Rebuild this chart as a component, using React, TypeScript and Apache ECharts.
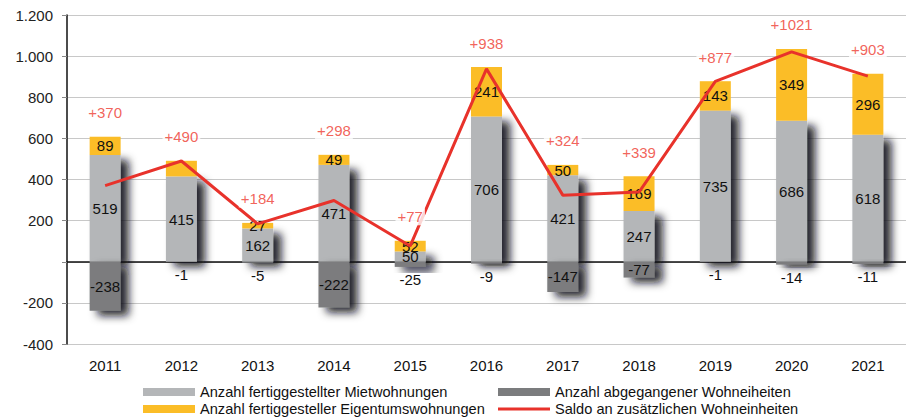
import React, { useEffect, useRef } from "react";
import * as echarts from "echarts";

const years = ["2011", "2012", "2013", "2014", "2015", "2016", "2017", "2018", "2019", "2020", "2021"];
const mietwohnungen = [519, 415, 162, 471, 50, 706, 421, 247, 735, 686, 618];
const eigentumswohnungen = [89, 76, 27, 49, 52, 241, 50, 169, 143, 349, 296];
const abgang = [-238, -1, -5, -222, -25, -9, -147, -77, -1, -14, -11];
const saldo = [370, 490, 184, 298, 77, 938, 324, 339, 877, 1021, 903];
const hiddenEigLabels = [1];
const yTicks = { min: -400, max: 1200, interval: 200 };

const N_MIET = "Anzahl fertiggestellter Mietwohnungen";
const N_EIG = "Anzahl fertiggesteller Eigentumswohnungen";
const N_ABG = "Anzahl abgegangener Wohneiheiten";
const N_SALDO = "Saldo an zusätzlichen Wohneinheiten";

const FONT = "'Liberation Sans', Arial, sans-serif";
const shadow = {
  shadowBlur: 9,
  shadowOffsetX: 8,
  shadowOffsetY: 5,
  shadowColor: "rgba(10,10,20,0.9)",
};

export default function App() {
  const ref = useRef<HTMLDivElement>(null);
  useEffect(() => {
    if (!ref.current) return;
    const chart = echarts.init(ref.current, undefined, { renderer: "svg" });
    const valueLabel = { show: true, color: "#111", fontSize: 15, fontFamily: FONT };
    const legendText = { fontSize: 14.6, lineHeight: 15, color: "#111", fontFamily: FONT };
    const noShadow = { shadowBlur: 0, shadowOffsetX: 0, shadowOffsetY: 0, shadowColor: "transparent" };
    const legendBase = {
      orient: "horizontal",
      itemWidth: 52,
      itemHeight: 8,
      padding: 0,
      textStyle: legendText,
      itemStyle: noShadow,
    };
    chart.setOption({
      animation: false,
      textStyle: { fontFamily: FONT },
      grid: { left: 67, right: 0, top: 15, bottom: 75 },
      legend: [
        { ...legendBase, left: 143, top: 384.5, data: [{ name: N_MIET, icon: "rect" }] },
        { ...legendBase, left: 143, top: 401.5, data: [{ name: N_EIG, icon: "rect" }] },
        { ...legendBase, left: 498, top: 384.5, data: [{ name: N_ABG, icon: "rect" }] },
        {
          ...legendBase,
          left: 498,
          top: 401.5,
          data: [{ name: N_SALDO, icon: "path://M0,0H52V3H0Z" }],
        },
      ],
      xAxis: [
        {
          type: "category",
          data: years,
          axisLine: { onZero: true, lineStyle: { color: "#111", width: 1.5 } },
          axisTick: { show: false },
          axisLabel: { show: false },
        },
        {
          type: "category",
          data: years,
          position: "bottom",
          axisLine: { show: false, onZero: false },
          axisTick: { show: false },
          axisLabel: { show: true, color: "#111", fontSize: 15, margin: 14, fontFamily: FONT },
        },
      ],
      yAxis: {
        type: "value",
        min: yTicks.min,
        max: yTicks.max,
        interval: yTicks.interval,
        axisLine: { show: true, lineStyle: { color: "#111", width: 1.5 } },
        axisTick: { show: true, length: 5, lineStyle: { color: "#888" } },
        axisLabel: {
          color: "#222",
          fontSize: 15,
          margin: 14,
          fontFamily: FONT,
          formatter: (v: number) =>
            v === 0 ? "" : v.toString().replace(/\B(?=(\d{3})+(?!\d))/g, "."),
        },
        splitLine: { show: true, lineStyle: { color: "#c8c8c8", width: 1 } },
      },
      series: [
        {
          name: N_MIET,
          type: "bar",
          stack: "a",
          barWidth: 31,
          data: mietwohnungen,
          itemStyle: { color: "#b4b6b8", ...shadow },
          label: { ...valueLabel, position: "inside" },
          z: 2,
        },
        {
          name: N_ABG,
          type: "bar",
          stack: "a",
          barWidth: 31,
          data: abgang.map((v) => ({
            value: v,
            label: { position: Math.abs(v) < 50 ? "bottom" : "inside", distance: 5 },
          })),
          itemStyle: { color: "#7b7c7e", ...shadow },
          label: { ...valueLabel },
          z: 2,
        },
        {
          name: N_EIG,
          type: "bar",
          stack: "a",
          barWidth: 31,
          data: eigentumswohnungen.map((v, i) => ({
            value: v,
            label: { show: !hiddenEigLabels.includes(i) },
          })),
          itemStyle: { color: "#fbbd27" },
          label: { ...valueLabel, position: "inside" },
          z: 2,
        },
        {
          name: N_SALDO,
          type: "line",
          data: saldo,
          symbol: "none",
          lineStyle: { color: "#e8322b", width: 3 },
          itemStyle: { color: "#e8322b" },
          z: 3,
        },
        {
          name: "saldoLabels",
          type: "scatter",
          data: mietwohnungen.map((m, i) => m + eigentumswohnungen[i]),
          symbolSize: 1,
          itemStyle: { color: "transparent" },
          label: {
            show: true,
            position: "top",
            distance: 15,
            color: "#ee3a30",
            fontSize: 15,
            fontFamily: FONT,
            backgroundColor: "#fff",
            padding: [1, 2],
            formatter: (p: any) => "+" + saldo[p.dataIndex],
          },
          z: 4,
          silent: true,
        },
      ],
    });
    return () => chart.dispose();
  }, []);
  return (
    <div
      ref={ref}
      style={{ position: "absolute", left: 0, top: 0, width: 906, height: 419 }}
    />
  );
}
